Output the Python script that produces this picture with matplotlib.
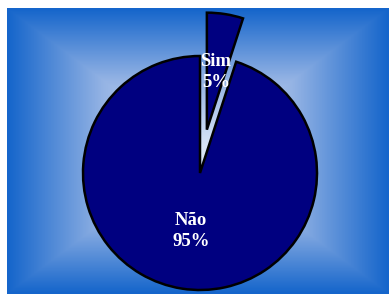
import numpy as np
import matplotlib
matplotlib.use("Agg")
import matplotlib.pyplot as plt
from matplotlib.colors import LinearSegmentedColormap

categories = ["Sim", "Não"]
values = [5, 95]

W, H, DPI = 389, 294, 100
fig = plt.figure(figsize=(W / DPI, H / DPI), dpi=DPI)
fig.patch.set_facecolor("white")

# background: rectangular gradient panel
bx0, by0 = 7, 8  # px from left / top
bg = fig.add_axes([bx0 / W, 0, (W - bx0) / W, (H - by0) / H])
bg.set_axis_off()
nx, ny = W - bx0, H - by0
xs = np.linspace(-1, 1, nx)
ys = np.linspace(-1, 1, ny)
X, Y = np.meshgrid(xs, ys)
T = np.maximum(np.abs(X), np.abs(Y))
cmap = LinearSegmentedColormap.from_list("g", ["#dde8f7", "#94b3e4", "#1565cb"])
bg.imshow(T, cmap=cmap, vmin=0, vmax=1, aspect="auto", interpolation="bilinear")

# pie
R = 117.0
cx, cy = 200.0, 294 - 173.0
ax = fig.add_axes([0, 0, 1, 1])
ax.set_axis_off()
labels = [f"{c}\n{v}%" for c, v in zip(categories, values)]
wedges, texts = ax.pie(values, labels=labels, startangle=90, counterclock=False,
                       explode=[0.375, 0], colors=["#000080", "#000080"],
                       labeldistance=0.5,
                       wedgeprops=dict(edgecolor="black", linewidth=1.8),
                       textprops=dict(color="white", fontweight="bold",
                                      family="Liberation Serif", fontsize=13.5,
                                      ha="center", va="center", linespacing=1.3))
ax.set_xlim(-cx / R, (W - cx) / R)
ax.set_ylim(-cy / R, (H - cy) / R)
ax.set_aspect("auto")

fig.savefig("out.png", dpi=DPI)
